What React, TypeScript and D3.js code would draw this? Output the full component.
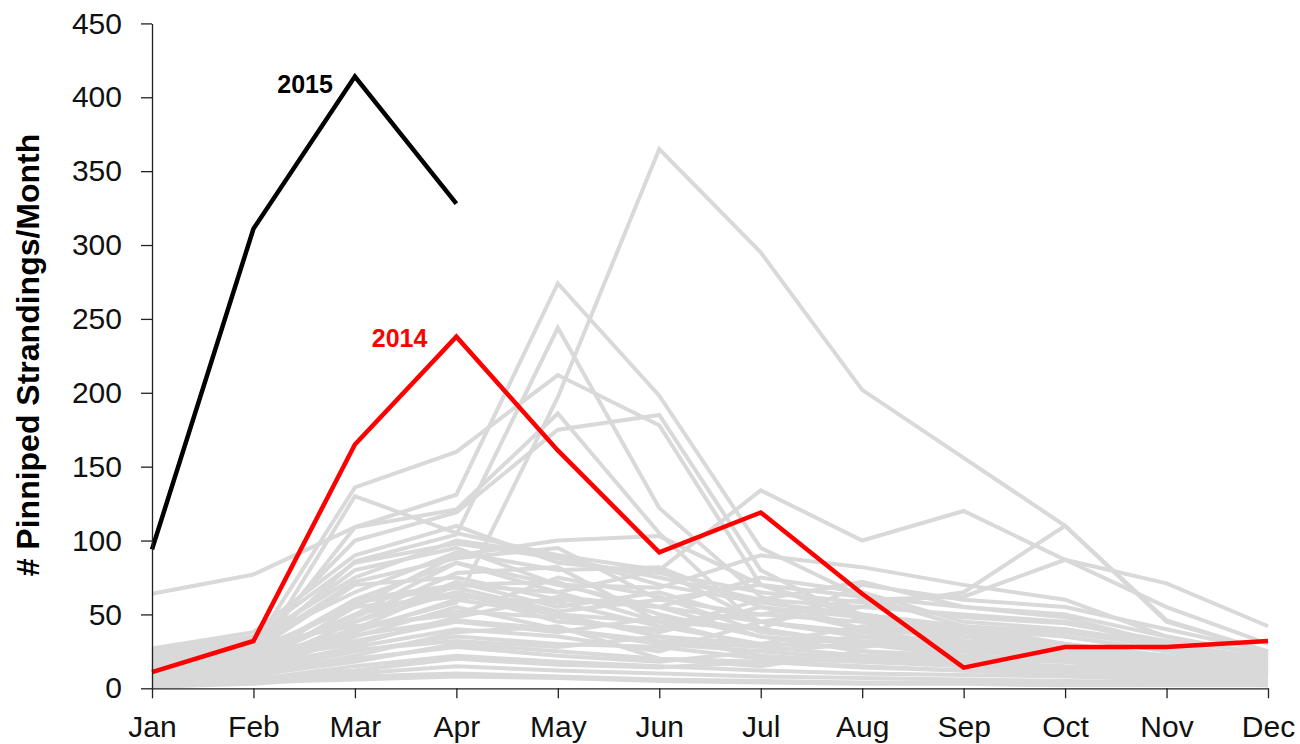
import React, { useEffect, useRef } from "react"
import * as d3 from "d3"

const months = ["Jan", "Feb", "Mar", "Apr", "May", "Jun", "Jul", "Aug", "Sep", "Oct", "Nov", "Dec"]
const yTicks = [0, 50, 100, 150, 200, 250, 300, 350, 400, 450]

// 2015 (partial year) and 2014
const y2015 = [94, 311, 414, 328]
const y2014 = [11, 32, 165, 238, 161, 92, 119, 64, 14, 28, 28, 32]

// earlier years, grey background
const pastYears: number[][] = [
  [15, 20, 40, 58, 197, 365, 295, 202, 156, 110, 46, 25],
  [12, 22, 109, 131, 274, 198, 95, 62, 42, 30, 16, 10],
  [18, 24, 86, 104, 244, 122, 62, 40, 28, 20, 12, 8],
  [20, 28, 136, 160, 212, 178, 70, 48, 35, 25, 18, 12],
  [64, 77, 109, 121, 186, 105, 40, 30, 22, 18, 12, 8],
  [25, 30, 100, 119, 175, 185, 80, 45, 30, 22, 15, 10],
  [10, 18, 130, 105, 90, 80, 45, 35, 28, 20, 14, 10],
  [8, 15, 55, 90, 100, 103, 70, 50, 40, 30, 20, 12],
  [5, 12, 40, 70, 65, 80, 134, 100, 120, 87, 71, 42],
  [10, 20, 60, 85, 70, 55, 45, 55, 65, 110, 45, 25],
  [8, 15, 45, 65, 50, 45, 50, 60, 62, 87, 55, 30],
  [26, 35, 85, 98, 88, 75, 60, 72, 55, 48, 30, 20],
  [22, 30, 80, 95, 70, 68, 90, 82, 70, 60, 35, 22],
  [20, 28, 72, 88, 95, 60, 50, 45, 40, 35, 25, 18],
  [18, 32, 65, 92, 80, 82, 55, 40, 35, 30, 22, 15],
  [15, 25, 70, 75, 60, 55, 75, 65, 45, 40, 28, 20],
  [24, 20, 50, 85, 65, 45, 40, 70, 60, 55, 40, 25],
  [12, 22, 60, 70, 72, 50, 35, 30, 28, 25, 18, 12],
  [10, 18, 50, 65, 45, 40, 60, 55, 50, 45, 30, 18],
  [14, 27, 45, 72, 55, 65, 45, 35, 25, 20, 15, 10],
  [8, 15, 38, 60, 50, 35, 30, 42, 38, 30, 20, 15],
  [6, 12, 35, 55, 40, 30, 25, 20, 18, 15, 12, 8],
  [16, 20, 30, 48, 62, 55, 35, 25, 22, 28, 20, 14],
  [9, 14, 28, 40, 35, 25, 45, 38, 30, 25, 20, 12],
  [5, 10, 25, 35, 30, 28, 20, 18, 15, 12, 10, 8],
  [7, 8, 22, 38, 42, 20, 15, 25, 20, 18, 14, 10],
  [4, 9, 18, 30, 25, 20, 18, 15, 12, 10, 8, 6],
  [3, 6, 15, 22, 18, 15, 12, 10, 9, 8, 6, 5],
  [2, 5, 10, 15, 12, 10, 8, 7, 6, 5, 4, 3],
  [1, 3, 8, 10, 8, 6, 5, 4, 4, 3, 3, 2],
  [11, 16, 40, 52, 48, 38, 55, 48, 42, 35, 25, 16],
  [19, 26, 55, 62, 58, 42, 30, 28, 35, 40, 30, 20],
  [13, 19, 32, 45, 38, 48, 40, 30, 25, 22, 18, 12],
  [21, 30, 42, 50, 75, 62, 38, 32, 28, 24, 18, 14],
  [17, 23, 48, 78, 82, 45, 28, 22, 20, 18, 14, 10],
  [6, 11, 20, 28, 22, 18, 25, 30, 25, 20, 15, 10],
  [10, 13, 26, 32, 28, 35, 22, 18, 16, 14, 10, 7],
  [25, 33, 75, 100, 90, 70, 58, 50, 42, 38, 28, 18],
  [27, 38, 90, 110, 85, 78, 65, 58, 48, 44, 32, 24],
  [14, 21, 58, 68, 52, 60, 70, 62, 55, 50, 35, 22],
  [9, 17, 36, 46, 40, 32, 28, 35, 32, 28, 22, 15],
  [3, 7, 12, 20, 16, 14, 18, 14, 12, 10, 8, 6],
  [2, 4, 6, 8, 7, 5, 4, 3, 3, 2, 2, 2],
]

const FONT = "'Liberation Sans', Arial, Helvetica, sans-serif"

export default function App() {
  const svgRef = useRef<SVGSVGElement>(null)

  useEffect(() => {
    if (!svgRef.current) return
    const svg = d3.select(svgRef.current)
    svg.selectAll("*").remove()

    const x = d3.scalePoint<string>().domain(months).range([152, 1268])
    const y = d3.scaleLinear().domain([0, 450]).range([688.3, 23.4])

    const line = d3.line<number>()
      .x((_, i) => x(months[i]) as number)
      .y(d => y(d))

    const g = svg.append("g")

    g.selectAll(".past")
      .data(pastYears)
      .enter().append("path")
      .attr("class", "past")
      .attr("fill", "none")
      .attr("stroke", "#d9d9d9")
      .attr("stroke-width", 4)
      .attr("d", d => line(d))

    g.append("path")
      .datum(y2014)
      .attr("fill", "none")
      .attr("stroke", "#ff0000")
      .attr("stroke-width", 4.5)
      .attr("d", line)

    g.append("path")
      .datum(y2015)
      .attr("fill", "none")
      .attr("stroke", "#000000")
      .attr("stroke-width", 4.5)
      .attr("d", line)

    // axes
    const yAxis = svg.append("g")
      .attr("transform", "translate(152,0)")
      .call(d3.axisLeft(y).tickValues(yTicks).tickSize(11).tickSizeOuter(0).tickPadding(19))
    yAxis.selectAll("text")
      .style("font-family", FONT)
      .style("font-size", "30px")
      .attr("fill", "#111")
    yAxis.selectAll("line, path").attr("stroke", "#222").attr("stroke-width", 1.3)

    const xAxis = svg.append("g")
      .attr("transform", `translate(0,${y(0)})`)
      .call(d3.axisBottom(x).tickSize(10).tickSizeOuter(0).tickPadding(17))
    xAxis.selectAll("text")
      .style("font-family", FONT)
      .style("font-size", "30px")
      .attr("fill", "#111")
    xAxis.selectAll("line, path").attr("stroke", "#222").attr("stroke-width", 1.3)

    // series labels
    svg.append("text")
      .attr("x", (x("Mar") as number) - 22)
      .attr("y", y(414) + 16.5)
      .attr("text-anchor", "end")
      .style("font-family", FONT)
      .style("font-size", "25px")
      .style("font-weight", "bold")
      .attr("fill", "#000")
      .text("2015")

    svg.append("text")
      .attr("x", (x("Apr") as number) - 29)
      .attr("y", y(238) + 10)
      .attr("text-anchor", "end")
      .style("font-family", FONT)
      .style("font-size", "25px")
      .style("font-weight", "bold")
      .attr("fill", "#ff0000")
      .text("2014")

    svg.append("text")
      .attr("transform", "translate(39,355) rotate(-90)")
      .attr("text-anchor", "middle")
      .style("font-family", FONT)
      .style("font-size", "32px")
      .style("font-weight", "bold")
      .attr("fill", "#000")
      .text("# Pinniped Strandings/Month")
  }, [])

  return (
    <svg
      ref={svgRef}
      width={1300}
      height={744}
      style={{ position: "absolute", left: 0, top: 0, background: "#fff" }}
    />
  )
}
